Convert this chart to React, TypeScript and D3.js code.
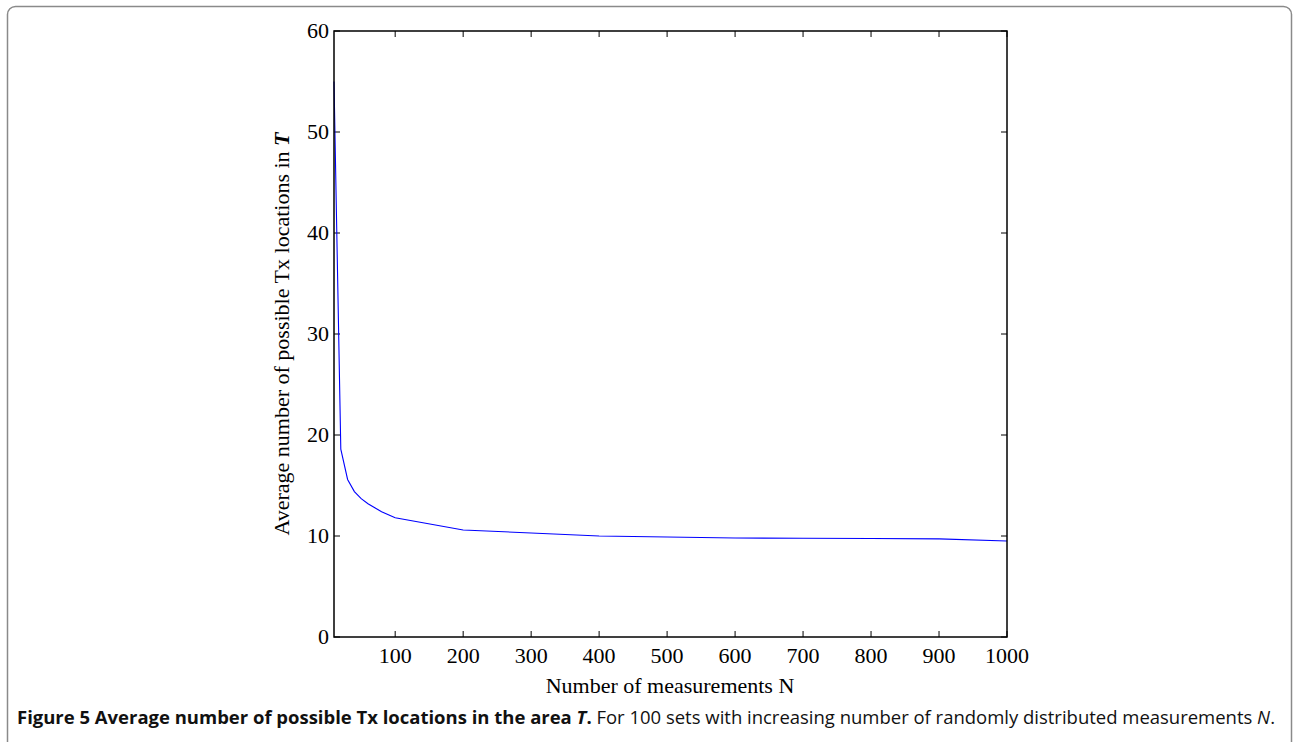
import React, { useRef, useEffect } from 'react';
import * as d3 from 'd3';

// values
const measurements = [10, 20, 30, 40, 50, 60, 70, 80, 90, 100, 200, 300, 400, 500, 600, 700, 800, 900, 1000];
const avgLocations = [55.0, 18.6, 15.6, 14.4, 13.7, 13.2, 12.8, 12.4, 12.1, 11.8, 10.6, 10.3, 10.0, 9.9, 9.8, 9.78, 9.75, 9.72, 9.5];
const xTicks = [100, 200, 300, 400, 500, 600, 700, 800, 900, 1000];
const yTicks = [0, 10, 20, 30, 40, 50, 60];

const W = 1294;
const H = 742;

const App = () => {
  const svgRef = useRef<SVGSVGElement>(null);

  useEffect(() => {
    const svg = d3.select(svgRef.current);
    svg.selectAll('*').remove();

    const left = 334, right = 1007, top = 31, bottom = 637;
    const x = d3.scaleLinear().domain([10, 1000]).range([left, right]);
    const y = d3.scaleLinear().domain([0, 60]).range([bottom, top]);
    const serif = '"Liberation Serif", "Times New Roman", serif';
    const fs = 22;

    // outer figure frame
    svg.append('rect')
      .attr('x', 7.5).attr('y', 6.5)
      .attr('width', 1284).attr('height', 750)
      .attr('rx', 8)
      .attr('fill', 'none')
      .attr('stroke', '#8a8a8a')
      .attr('stroke-width', 1.5);

    const g = svg.append('g');

    // tick marks inside the box, on all four sides
    const tl = 6;
    xTicks.forEach(t => {
      g.append('line').attr('x1', x(t)).attr('x2', x(t)).attr('y1', bottom).attr('y2', bottom - tl).attr('stroke', '#000');
      g.append('line').attr('x1', x(t)).attr('x2', x(t)).attr('y1', top).attr('y2', top + tl).attr('stroke', '#000');
    });
    yTicks.forEach(t => {
      g.append('line').attr('x1', left).attr('x2', left + tl).attr('y1', y(t)).attr('y2', y(t)).attr('stroke', '#000');
      g.append('line').attr('x1', right).attr('x2', right - tl).attr('y1', y(t)).attr('y2', y(t)).attr('stroke', '#000');
    });

    // data line
    const line = d3.line<number>()
      .x((d, i) => x(measurements[i]))
      .y(d => y(d));
    g.append('path')
      .datum(avgLocations)
      .attr('d', line)
      .attr('fill', 'none')
      .attr('stroke', '#0000ff')
      .attr('stroke-width', 1.1);

    // box
    g.append('rect')
      .attr('x', left).attr('y', top)
      .attr('width', right - left).attr('height', bottom - top)
      .attr('fill', 'none')
      .attr('stroke', '#000')
      .attr('stroke-width', 1.5);

    // tick labels
    g.selectAll('.xt')
      .data(xTicks)
      .join('text')
      .attr('x', d => x(d))
      .attr('y', 663)
      .attr('text-anchor', 'middle')
      .attr('font-family', serif)
      .attr('font-size', fs)
      .text(d => d);

    g.selectAll('.yt')
      .data(yTicks)
      .join('text')
      .attr('x', 329)
      .attr('y', d => y(d) + 7)
      .attr('text-anchor', 'end')
      .attr('font-family', serif)
      .attr('font-size', fs)
      .text(d => d);

    // axis titles
    g.append('text')
      .attr('x', 670).attr('y', 693)
      .attr('text-anchor', 'middle')
      .attr('font-family', serif)
      .attr('font-size', fs)
      .text('Number of measurements N');

    const yl = g.append('text')
      .attr('transform', `translate(289,${(top + bottom) / 2}) rotate(-90)`)
      .attr('text-anchor', 'middle')
      .attr('font-family', serif)
      .attr('font-size', fs);
    yl.append('tspan').text('Average number of possible Tx locations in ');
    yl.append('tspan').attr('font-weight', 'bold').attr('font-style', 'italic').text('T');

    // caption
    const cap = svg.append('text')
      .attr('x', 17).attr('y', 724)
      .attr('font-family', '"Open Sans", "Noto Sans", sans-serif')
      .attr('font-size', 18.5)
      .attr('textLength', 1258)
      .attr('lengthAdjust', 'spacingAndGlyphs')
      .attr('fill', '#111');
    cap.append('tspan').attr('font-weight', 'bold').text('Figure 5 Average number of possible Tx locations in the area ');
    cap.append('tspan').attr('font-weight', 'bold').attr('font-style', 'italic').text('T');
    cap.append('tspan').attr('font-weight', 'bold').text('.');
    cap.append('tspan').text(' For 100 sets with increasing number of randomly distributed measurements ');
    cap.append('tspan').attr('font-style', 'italic').text('N');
    cap.append('tspan').text('.');
  }, []);

  return (
    <svg
      ref={svgRef}
      width={W}
      height={H}
      style={{ position: 'absolute', left: 0, top: 0, background: '#fff' }}
    />
  );
};

export default App;
